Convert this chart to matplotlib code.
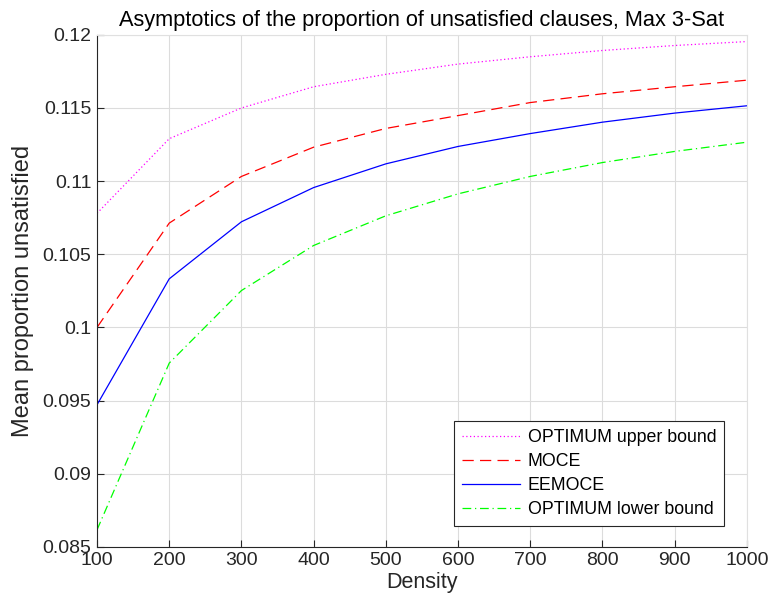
import matplotlib
matplotlib.use("Agg")
import matplotlib.pyplot as plt

plt.rcParams['font.family'] = ['Liberation Sans', 'DejaVu Sans']

# data
density = [100, 200, 300, 400, 500, 600, 700, 800, 900, 1000]
opt_upper = [0.1078, 0.1129, 0.1150, 0.11645, 0.1173, 0.1180, 0.1185, 0.11893, 0.11927, 0.11954]
moce = [0.1000, 0.10713, 0.11032, 0.11232, 0.1136, 0.11448, 0.11537, 0.11597, 0.11645, 0.1169]
eemoce = [0.09471, 0.10332, 0.10722, 0.10956, 0.11118, 0.11237, 0.11325, 0.11403, 0.11465, 0.11515]
opt_lower = [0.08616, 0.09756, 0.10252, 0.1056, 0.10763, 0.10913, 0.11032, 0.11127, 0.11203, 0.11266]

yticks = [0.085, 0.09, 0.095, 0.1, 0.105, 0.11, 0.115, 0.12]
yticklabels = ['0.085', '0.09', '0.095', '0.1', '0.105', '0.11', '0.115', '0.12']

fig = plt.figure(figsize=(7.7, 6.11), dpi=100)
ax = fig.add_axes([0.126, 0.105, 0.844, 0.838])

ax.plot(density, opt_upper, color='#ff00ff', linestyle=(0, (1, 2)), lw=0.9, label='OPTIMUM upper bound')
ax.plot(density, moce, color='#ff0000', linestyle=(0, (9, 5)), lw=0.9, label='MOCE')
ax.plot(density, eemoce, color='#0000ff', linestyle='-', lw=0.9, label='EEMOCE')
ax.plot(density, opt_lower, color='#00ff00', linestyle=(0, (7, 3, 1, 3)), lw=0.9, label='OPTIMUM lower bound')

ax.set_xlim(100, 1000)
ax.set_ylim(0.085, 0.12)
ax.set_xticks(density)
ax.set_yticks(yticks)
ax.set_yticklabels(yticklabels)
ax.tick_params(direction='in', labelsize=14, colors='#262626', length=5, top=False, right=False, pad=4)
ax.grid(True, color='#dcdcdc', lw=0.8)
ax.set_axisbelow(True)
for side in ['left', 'bottom']:
    ax.spines[side].set_color('#262626')
for side in ['top', 'right']:
    ax.spines[side].set_color('#e0e0e0')

ax.set_xlabel('Density', fontsize=15.5, color='#262626', labelpad=2)
ax.set_ylabel('Mean proportion unsatisfied', fontsize=17, color='#262626', labelpad=6)
ax.set_title('Asymptotics of the proportion of unsatisfied clauses, Max 3-Sat', fontsize=15.7, pad=6)

leg = ax.legend(loc='lower right', bbox_to_anchor=(0.965, 0.04), fontsize=12.8, handlelength=3.3,
                fancybox=False, framealpha=1, edgecolor='#262626', borderpad=0.45, labelspacing=0.4,
                handletextpad=0.4, borderaxespad=0)
leg.get_frame().set_linewidth(0.8)

fig.savefig('out.png', dpi=100)
